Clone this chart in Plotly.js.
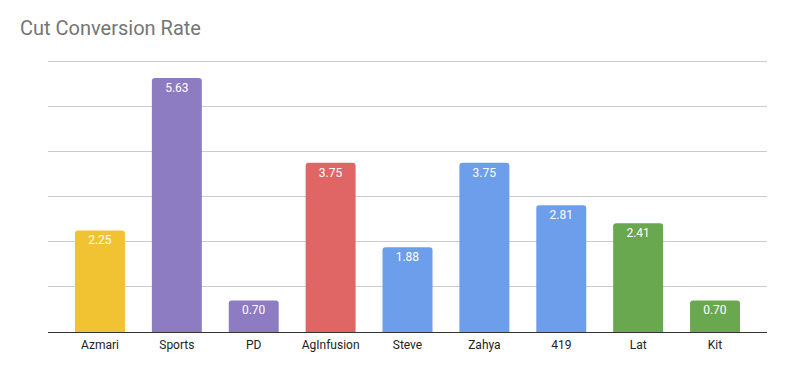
<!DOCTYPE html>
<html>
<head>
<meta charset="utf-8">
<script src="https://cdn.plot.ly/plotly-3.0.1.min.js"></script>
<style>html,body{margin:0;padding:0;background:#fff}#chart{width:785px;height:371px}</style>
</head>
<body>
<div id="chart"></div>
<script>
const categories = ["Azmari", "Sports", "PD", "AgInfusion", "Steve", "Zahya", "419", "Lat", "Kit"];
const values = [2.25, 5.63, 0.70, 3.75, 1.88, 3.75, 2.81, 2.41, 0.70];
const labels = ["2.25", "5.63", "0.70", "3.75", "1.88", "3.75", "2.81", "2.41", "0.70"];
const colors = ["#F1C232", "#8E7CC3", "#8E7CC3", "#E06666", "#6D9EEB", "#6D9EEB", "#6D9EEB", "#6AA84F", "#6AA84F"];

const trace = {
  type: "bar",
  x: categories,
  y: values,
  text: labels,
  textposition: "inside",
  insidetextanchor: "end",
  textangle: 0,
  insidetextfont: {family: "Roboto, Arial, sans-serif", size: 12, color: "#ffffff"},
  marker: {color: colors, cornerradius: 3},
  hoverinfo: "x+y",
  cliponaxis: false
};

const layout = {
  width: 785,
  height: 371,
  margin: {l: 48, r: 18, t: 59, b: 39},
  paper_bgcolor: "#ffffff",
  plot_bgcolor: "#ffffff",
  bargap: 0.35,
  showlegend: false,
  font: {family: "Roboto, Arial, sans-serif", color: "#222222", size: 12},
  title: {
    text: "Cut Conversion Rate",
    x: 20 / 785, xref: "container", xanchor: "left",
    y: 1, yref: "container", yanchor: "top",
    pad: {t: 21},
    font: {family: "Roboto, Arial, sans-serif", size: 20, color: "#757575"}
  },
  xaxis: {
    range: [-0.676, 8.676],
    showline: true, linecolor: "#333333", linewidth: 1,
    showgrid: false, ticks: "", ticklabelstandoff: 2,
    tickfont: {size: 12, color: "#222222"},
    fixedrange: true
  },
  yaxis: {
    range: [0, 6.05], tick0: 0, dtick: 1, showticklabels: false, ticks: "",
    showgrid: true, gridcolor: "#cccccc", gridwidth: 1,
    zeroline: false, showline: false, fixedrange: true
  }
};

Plotly.newPlot("chart", [trace], layout, {displayModeBar: false, staticPlot: true});
</script>
</body>
</html>
